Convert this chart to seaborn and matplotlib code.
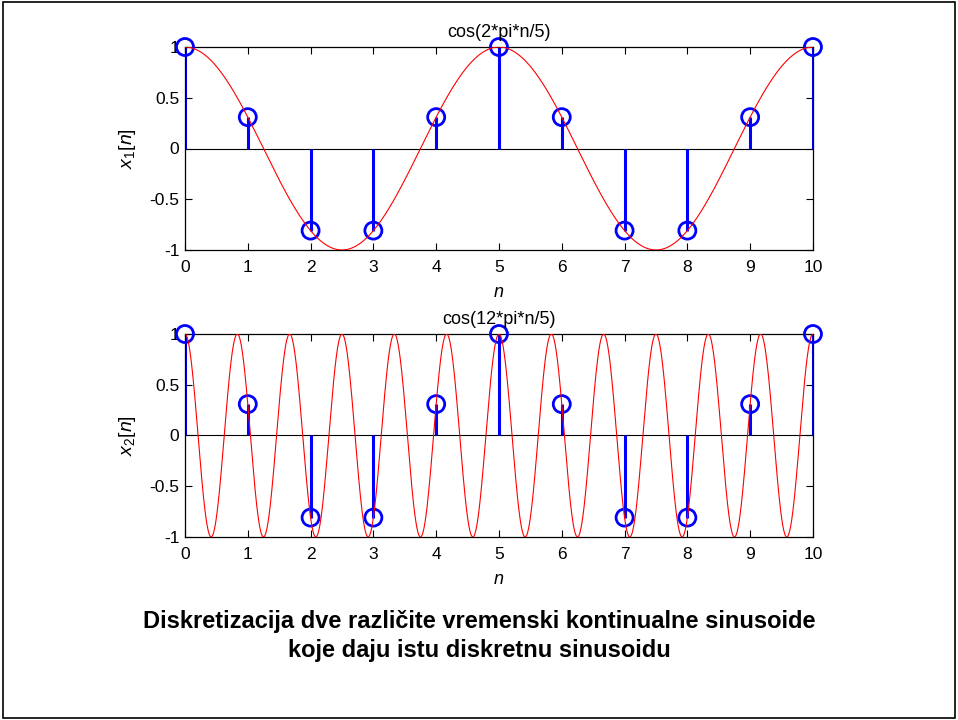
import matplotlib
matplotlib.use("Agg")
import matplotlib.pyplot as plt
import numpy as np
import pandas as pd
import seaborn as sns
from matplotlib.patches import Rectangle

# sample index and sampled values (same for both signals)
n = list(range(11))
x1 = [1.0, 0.309, -0.809, -0.809, 0.309, 1.0, 0.309, -0.809, -0.809, 0.309, 1.0]
x2 = [1.0, 0.309, -0.809, -0.809, 0.309, 1.0, 0.309, -0.809, -0.809, 0.309, 1.0]

# continuous-time frequencies (cycles per unit n) named in the titles
freq1 = 1 / 5   # cos(2*pi*n/5)
freq2 = 6 / 5   # cos(12*pi*n/5)
titles = ["cos(2*pi*n/5)", "cos(12*pi*n/5)"]
ylabels = [r"$x_1[n]$", r"$x_2[n]$"]
xticks = list(range(11))
yticks = [-1, -0.5, 0, 0.5, 1]
yticklabels = ["-1", "-0.5", "0", "0.5", "1"]
caption = ["Diskretizacija dve različite vremenski kontinualne sinusoide",
           "koje daju istu diskretnu sinusoidu"]

sns.set_style("ticks")
plt.rcParams["font.family"] = ["Liberation Sans", "DejaVu Sans"]
plt.rcParams["text.color"] = "black"
plt.rcParams["axes.labelcolor"] = "black"
plt.rcParams["mathtext.fontset"] = "custom"
plt.rcParams["mathtext.rm"] = "Liberation Sans"
plt.rcParams["mathtext.it"] = "Liberation Sans:italic"

fig = plt.figure(figsize=(9.58, 7.2), dpi=100)
fig.patch.set_facecolor("white")
fig.add_artist(Rectangle((0.003, 0.003), 0.994, 0.994, transform=fig.transFigure,
                         fill=False, edgecolor="black", linewidth=1.2))

ax_top = fig.add_axes([0.1931, 0.6528, 0.6555, 0.2819])
ax_bot = fig.add_axes([0.1931, 0.2542, 0.6555, 0.2819])

t = np.linspace(0, 10, 2001)
for ax, vals, f, title, ylab in zip([ax_top, ax_bot], [x1, x2], [freq1, freq2], titles, ylabels):
    ax.axhline(0, color="black", linewidth=0.8, zorder=1)
    ax.vlines(n, 0, vals, color="#0000ff", linewidth=2.2, zorder=2)
    sns.scatterplot(x=n, y=vals, ax=ax, marker="o", s=150, facecolor="none",
                    edgecolor="#0000ff", linewidth=2.0, zorder=3, clip_on=False)
    curve = pd.DataFrame({"t": t, "x": np.cos(2 * np.pi * f * t)})
    sns.lineplot(data=curve, x="t", y="x", ax=ax, color="#ff0000", linewidth=0.8,
                 zorder=4, estimator=None)
    ax.set_xlim(0, 10)
    ax.set_ylim(-1, 1)
    ax.set_xticks(xticks)
    ax.set_yticks(yticks)
    ax.set_yticklabels(yticklabels)
    ax.tick_params(direction="in", top=True, right=True, length=5, width=0.8,
                   labelsize=12.5, colors="black")
    ax.tick_params(axis="x", pad=7.5)
    ax.tick_params(axis="y", pad=4)
    for sp in ax.spines.values():
        sp.set_visible(True)
        sp.set_linewidth(0.9)
        sp.set_color("black")
    ax.set_title(title, fontsize=13, pad=7)
    ax.set_xlabel(r"$n$", fontsize=13, labelpad=6)
    ax.set_ylabel(ylab, fontsize=14, labelpad=8)

fig.text(0.5, 0.137, caption[0], ha="center", va="center", fontsize=17, fontweight="bold")
fig.text(0.5, 0.097, caption[1], ha="center", va="center", fontsize=17, fontweight="bold")

fig.savefig("out.png", dpi=100)
